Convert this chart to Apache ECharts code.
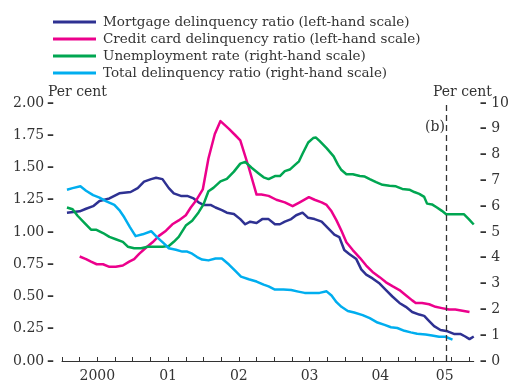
<!DOCTYPE html>
<html>
<head>
<meta charset="utf-8">
<title>Delinquency ratios and unemployment</title>
<script src="https://cdn.jsdelivr.net/npm/echarts@6/dist/echarts.min.js"></script>
<style>
  html, body { margin: 0; padding: 0; background: #fff; }
  #chart { width: 512px; height: 383px; }
</style>
</head>
<body>
<div id="chart"></div>
<script>
// Monthly readings as [decimal year, per cent]
const mortgage = [[2000.07,1.15],[2000.25,1.16],[2000.34,1.18],[2000.44,1.20],[2000.53,1.24],[2000.67,1.26],[2000.81,1.30],[2000.97,1.31],[2001.07,1.34],[2001.16,1.39],[2001.26,1.41],[2001.33,1.42],[2001.42,1.41],[2001.51,1.34],[2001.58,1.30],[2001.68,1.28],[2001.77,1.28],[2001.86,1.26],[2001.93,1.23],[2002.00,1.21],[2002.10,1.21],[2002.17,1.19],[2002.26,1.17],[2002.33,1.15],[2002.43,1.14],[2002.52,1.10],[2002.59,1.06],[2002.66,1.08],[2002.75,1.07],[2002.83,1.10],[2002.92,1.10],[2003.01,1.06],[2003.08,1.06],[2003.15,1.08],[2003.24,1.10],[2003.31,1.13],[2003.40,1.15],[2003.48,1.11],[2003.57,1.10],[2003.67,1.08],[2003.76,1.03],[2003.85,0.98],[2003.92,0.96],[2003.99,0.86],[2004.06,0.83],[2004.16,0.79],[2004.23,0.71],[2004.30,0.67],[2004.39,0.64],[2004.49,0.60],[2004.58,0.55],[2004.67,0.50],[2004.77,0.45],[2004.86,0.42],[2004.95,0.38],[2005.05,0.36],[2005.12,0.35],[2005.19,0.31],[2005.26,0.27],[2005.35,0.24],[2005.45,0.23],[2005.54,0.21],[2005.63,0.21],[2005.70,0.19],[2005.76,0.17],[2005.82,0.19]];

const creditCard = [[2000.25,0.81],[2000.34,0.79],[2000.41,0.77],[2000.49,0.75],[2000.58,0.75],[2000.67,0.73],[2000.76,0.73],[2000.86,0.74],[2000.95,0.77],[2001.02,0.79],[2001.09,0.83],[2001.19,0.88],[2001.28,0.92],[2001.37,0.97],[2001.47,1.01],[2001.56,1.06],[2001.65,1.09],[2001.75,1.13],[2001.82,1.19],[2001.89,1.24],[2001.99,1.33],[2002.07,1.57],[2002.16,1.76],[2002.24,1.86],[2002.36,1.80],[2002.45,1.75],[2002.52,1.71],[2002.64,1.50],[2002.75,1.29],[2002.82,1.29],[2002.92,1.28],[2003.03,1.25],[2003.15,1.23],[2003.26,1.20],[2003.36,1.23],[2003.49,1.27],[2003.57,1.25],[2003.67,1.23],[2003.74,1.21],[2003.81,1.16],[2003.88,1.09],[2003.95,1.01],[2004.02,0.92],[2004.11,0.86],[2004.21,0.80],[2004.30,0.74],[2004.39,0.69],[2004.49,0.65],[2004.58,0.61],[2004.67,0.58],[2004.77,0.55],[2004.86,0.51],[2004.95,0.47],[2005.00,0.45],[2005.09,0.45],[2005.19,0.44],[2005.28,0.42],[2005.37,0.41],[2005.47,0.40],[2005.56,0.40],[2005.66,0.39],[2005.76,0.38]];

const unemployment = [[2000.07,5.95],[2000.15,5.88],[2000.22,5.63],[2000.32,5.34],[2000.41,5.09],[2000.48,5.09],[2000.58,4.96],[2000.67,4.81],[2000.76,4.72],[2000.86,4.62],[2000.93,4.43],[2001.02,4.37],[2001.12,4.37],[2001.21,4.43],[2001.33,4.43],[2001.42,4.43],[2001.51,4.46],[2001.58,4.62],[2001.65,4.81],[2001.75,5.25],[2001.84,5.44],[2001.93,5.76],[2002.00,6.07],[2002.07,6.58],[2002.14,6.71],[2002.24,6.96],[2002.33,7.06],[2002.43,7.34],[2002.52,7.65],[2002.59,7.72],[2002.68,7.49],[2002.78,7.27],[2002.85,7.12],[2002.92,7.05],[2003.01,7.17],[2003.08,7.17],[2003.15,7.36],[2003.22,7.42],[2003.29,7.59],[2003.35,7.74],[2003.40,8.03],[2003.48,8.47],[2003.55,8.64],[2003.59,8.66],[2003.64,8.53],[2003.74,8.25],[2003.84,7.93],[2003.90,7.61],[2003.95,7.40],[2004.02,7.24],[2004.11,7.24],[2004.21,7.17],[2004.28,7.15],[2004.35,7.05],[2004.44,6.93],[2004.53,6.83],[2004.63,6.79],[2004.72,6.77],[2004.81,6.67],[2004.91,6.64],[2004.98,6.55],[2005.05,6.48],[2005.12,6.36],[2005.16,6.10],[2005.23,6.07],[2005.30,5.95],[2005.37,5.82],[2005.43,5.69],[2005.56,5.69],[2005.68,5.69],[2005.75,5.50],[2005.82,5.29]];

const totalDelinquency = [[2000.07,6.64],[2000.15,6.70],[2000.26,6.77],[2000.34,6.60],[2000.44,6.43],[2000.53,6.33],[2000.62,6.20],[2000.74,6.05],[2000.81,5.85],[2000.88,5.57],[2000.96,5.19],[2001.04,4.84],[2001.14,4.91],[2001.26,5.03],[2001.35,4.78],[2001.44,4.56],[2001.51,4.37],[2001.61,4.31],[2001.70,4.24],[2001.77,4.24],[2001.84,4.16],[2001.91,4.03],[2001.98,3.93],[2002.07,3.90],[2002.17,3.97],[2002.26,3.97],[2002.36,3.74],[2002.45,3.49],[2002.53,3.27],[2002.64,3.17],[2002.75,3.08],[2002.85,2.96],[2002.92,2.89],[2003.01,2.77],[2003.13,2.77],[2003.24,2.75],[2003.34,2.69],[2003.43,2.64],[2003.55,2.64],[2003.64,2.64],[2003.74,2.70],[2003.81,2.54],[2003.88,2.28],[2003.95,2.10],[2004.04,1.94],[2004.13,1.88],[2004.25,1.78],[2004.35,1.66],[2004.46,1.49],[2004.56,1.40],[2004.65,1.31],[2004.74,1.28],[2004.84,1.17],[2004.93,1.11],[2005.02,1.06],[2005.14,1.03],[2005.23,0.99],[2005.33,0.94],[2005.42,0.94],[2005.52,0.83]];

const seriesNames = [
  'Mortgage delinquency ratio (left-hand scale)',
  'Credit card delinquency ratio (left-hand scale)',
  'Unemployment rate (right-hand scale)',
  'Total delinquency ratio (right-hand scale)'
];
const seriesColors = ['#2e3192', '#ec008c', '#00a651', '#00aeef'];

// Year labels sit in the middle of each year (the last one in the middle of the visible part)
const yearLabels = ['2000', '01', '02', '03', '04', '05'];
const yearLabelPositions = [2000.5, 2001.5, 2002.5, 2003.5, 2004.5, 2005.41];
const quarterTicks = [];
for (let y = 2000; y <= 2005.75; y += 0.25) quarterTicks.push(+y.toFixed(2));

const leftTicks = ['0.00', '0.25', '0.50', '0.75', '1.00', '1.25', '1.50', '1.75', '2.00'];
const rightTicks = ['0', '1', '2', '3', '4', '5', '6', '7', '8', '9', '10'];
const breakDate = 2005.43;   // footnote (b)

const FONT = 'DejaVu Serif';
const INK = '#333333';
const DASH = '\u2013';

const chart = echarts.init(document.getElementById('chart'), null, { renderer: 'canvas' });

const lineSeries = (name, data, color, axis) => ({
  name, type: 'line', data, yAxisIndex: axis,
  symbol: 'none', smooth: false, clip: false,
  lineStyle: { color, width: 2.5, join: 'round' },
  itemStyle: { color },
  emphasis: { disabled: true },
  z: 3
});

// Value axes: no axis line, each label carries a short dash pointing at the plot
const labelRich = {
  v: { fontFamily: FONT, fontSize: 14, color: INK },
  d: { fontFamily: FONT, fontSize: 14, color: INK, fontWeight: 'bold' }
};
const sideAxis = (extra) => Object.assign({
  type: 'value',
  axisLine: { show: false },
  axisTick: { show: false },
  splitLine: { show: false }
}, extra);

chart.setOption({
  animation: false,
  grid: { left: 62, right: 35, top: 103, bottom: 16, containLabel: false },
  legend: {
    orient: 'vertical', left: 48, top: 10,
    itemWidth: 43, itemHeight: 3, itemGap: 3,
    icon: 'rect',
    selectedMode: false,
    textStyle: { fontFamily: FONT, fontSize: 13.5, color: INK, padding: [0, 0, 0, 2] },
    data: seriesNames
  },
  xAxis: {
    type: 'value', min: 2000, max: 2005.82,
    axisLine: { show: true, lineStyle: { color: INK, width: 1 } },
    axisTick: { show: true, inside: true, length: 4, customValues: quarterTicks, lineStyle: { color: INK, width: 1 } },
    axisLabel: {
      customValues: yearLabelPositions,
      formatter: v => yearLabels[yearLabelPositions.indexOf(+v.toFixed(2))] || '',
      fontFamily: FONT, fontSize: 14, color: INK, margin: 8
    },
    splitLine: { show: false }
  },
  yAxis: [
    sideAxis({
      min: 0, max: 2, interval: 0.25, position: 'left', offset: 8,
      axisLabel: {
        formatter: v => '{v|' + leftTicks[Math.round(v / 0.25)] + '\u2009}{d|' + DASH + '}',
        rich: labelRich, margin: 0
      }
    }),
    sideAxis({
      min: 0, max: 10, interval: 1, position: 'right', offset: 6,
      axisLabel: {
        formatter: v => '{d|' + DASH + '}{v| ' + rightTicks[Math.round(v)] + '}',
        rich: labelRich, margin: 0
      }
    })
  ],
  series: [
    lineSeries(seriesNames[0], mortgage, seriesColors[0], 0),
    lineSeries(seriesNames[1], creditCard, seriesColors[1], 0),
    lineSeries(seriesNames[2], unemployment, seriesColors[2], 1),
    Object.assign(lineSeries(seriesNames[3], totalDelinquency, seriesColors[3], 1), {
      markLine: {
        silent: true, symbol: ['none', 'none'], label: { show: false },
        lineStyle: { color: INK, type: [6, 4], width: 1.3 },
        data: [{ xAxis: breakDate }]
      }
    })
  ],
  graphic: [
    { type: 'text', left: 48, top: 85, style: { text: 'Per cent', fontFamily: FONT, fontSize: 14, fill: INK } },
    { type: 'text', left: 433, top: 85, style: { text: 'Per cent', fontFamily: FONT, fontSize: 14, fill: INK } },
    { type: 'text', left: 425, top: 120, style: { text: '(b)', fontFamily: FONT, fontSize: 14, fill: INK } }
  ]
});
</script>
</body>
</html>
